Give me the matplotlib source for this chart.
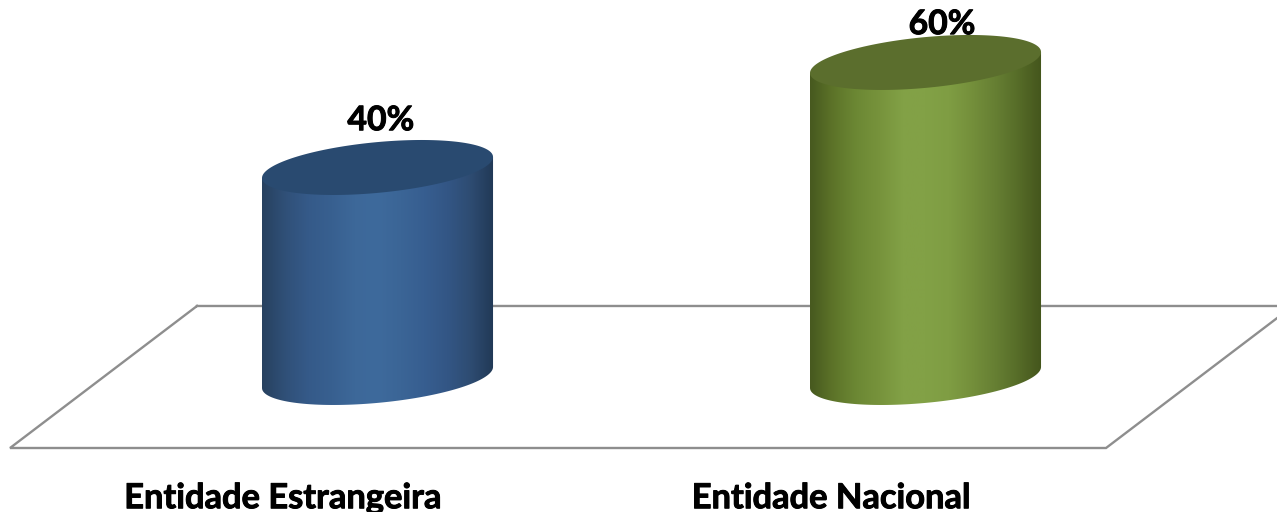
import numpy as np
import matplotlib
matplotlib.use('Agg')
import matplotlib.pyplot as plt
import matplotlib.patheffects as pe
from matplotlib.colors import LinearSegmentedColormap
from matplotlib.patches import PathPatch, Polygon
from matplotlib.path import Path

categories = ['Entidade Estrangeira', 'Entidade Nacional']
values = [40, 60]
value_labels = ['40%', '60%']

# gradient across the cylinder body, left edge to right edge
body_colors = [
    ['#27415F', '#305078', '#355A89', '#386090', '#3D6899', '#3E6A9C',
     '#3B6596', '#375E90', '#335685', '#2E4C72', '#213956'],
    ['#47591F', '#5D7429', '#6C8834', '#77933C', '#82A146', '#82A146',
     '#7F9D43', '#748F3B', '#667F33', '#566C28', '#44551C'],
]
top_colors = ['#294A70', '#5B6E2D']

HALF_WIDTH = 0.2108  # cylinder half width, in category units
TILT = 2.0           # how far the right side of the ellipse rises, in % units
DEPTH = 4.84         # ellipse half depth, in % units
LINE_COLOR = '#8E8E8E'


def ellipse_edge(x0, level, t):
    return x0 + HALF_WIDTH * np.cos(t), level + TILT * np.cos(t) + DEPTH * np.sin(t)


fig = plt.figure(figsize=(12.77, 5.12), dpi=100)
ax = fig.add_axes([0, 0, 1, 1])
ax.axis('off')

# floor of the 3D chart
ax.plot([-0.3294, 1.6706, 1.3294, -0.6706, -0.3294],
        [13.62, 13.62, -13.43, -13.43, 13.62],
        color=LINE_COLOR, lw=1.7, zorder=1, solid_joinstyle='miter')

for i, (value, label) in enumerate(zip(values, value_labels)):
    # body outline: down the left side, along the lower front of the base, up the right side
    t = np.linspace(-np.pi, 0, 80)
    base_x, base_y = ellipse_edge(i, 0, t)
    top_x, top_y = ellipse_edge(i, value, np.linspace(0, 2 * np.pi, 160))
    left_y = value - TILT
    right_y = value + TILT
    xs = np.concatenate([[i - HALF_WIDTH], base_x, [i + HALF_WIDTH], [i - HALF_WIDTH]])
    ys = np.concatenate([[left_y], base_y, [right_y], [left_y]])
    body = PathPatch(Path(np.column_stack([xs, ys])), facecolor='none', edgecolor='none',
                     transform=ax.transData)
    ax.add_patch(body)

    cmap = LinearSegmentedColormap.from_list('body', body_colors[i])
    gradient = np.linspace(0, 1, 256).reshape(1, -1)
    img = ax.imshow(gradient, cmap=cmap, aspect='auto', zorder=2, interpolation='bilinear',
                    extent=[i - HALF_WIDTH, i + HALF_WIDTH, -10, value + 10])
    img.set_clip_path(body)

    ax.add_patch(Polygon(np.column_stack([top_x, top_y]), closed=True,
                         facecolor=top_colors[i], edgecolor='none', zorder=3))

# value labels and category labels, placed like the original
label_shift = [(0.006, 7.1), (0.03, 5.4)]
heavier = [pe.withStroke(linewidth=0.7, foreground='black')]
for i, (value, label) in enumerate(zip(values, value_labels)):
    ax.text(i + label_shift[i][0], value + label_shift[i][1], label, ha='center', va='baseline',
            family='Lato', weight='bold', fontsize=24.3, color='black', zorder=4,
            path_effects=heavier)
    ax.text(i - 0.172, -24.9, categories[i], ha='center', va='baseline',
            family='Lato', weight='bold', fontsize=24.8, color='black', zorder=4,
            path_effects=heavier)

ax.set_xlim(-0.6889, 1.6414)
ax.set_ylim(-25.62, 71.9)

fig.savefig('out.png', dpi=100)
